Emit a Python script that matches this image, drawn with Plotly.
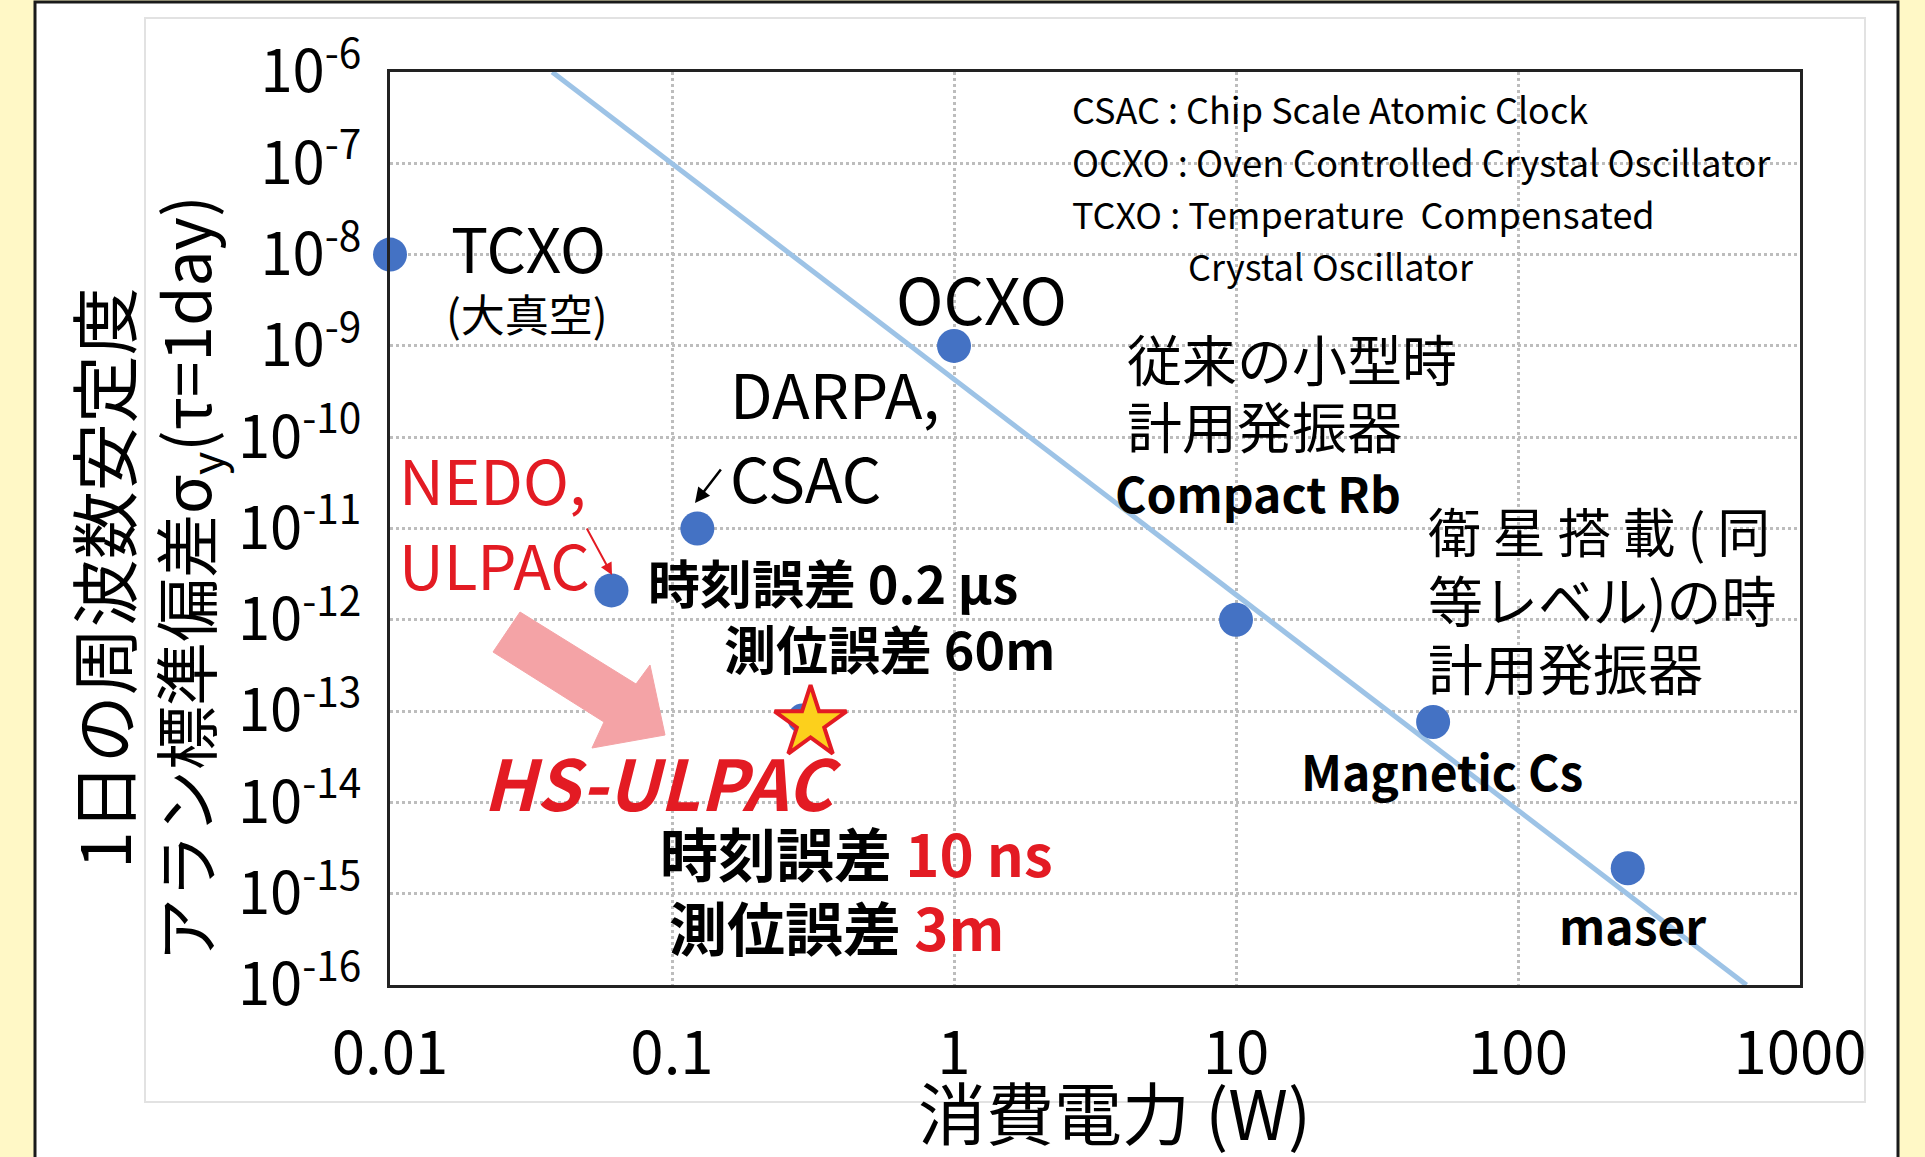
import plotly.graph_objects as go

# ---------------- data ----------------
device_names = ["TCXO", "NEDO ULPAC", "DARPA CSAC", "OCXO", "Compact Rb", "Magnetic Cs", "maser"]
power_w = [0.01, 0.061, 0.123, 1.0, 10.0, 50.0, 245.0]
stability = [1e-8, 2.1e-12, 1e-11, 1e-9, 1e-12, 7.6e-14, 1.9e-15]

hs_dot_power = [0.29]
hs_dot_stability = [8.3e-14]
hs_power = [0.31]
hs_stability = [7.4e-14]

trend_power = [0.0376, 646.0]
trend_stability = [1e-6, 1e-16]

x_tickvals = [0.01, 0.1, 1, 10, 100, 1000]
x_ticktext = ["0.01", "0.1", "1", "10", "100", "1000"]
y_exponents = [-6, -7, -8, -9, -10, -11, -12, -13, -14, -15, -16]

# ---------------- geometry helpers (pixel -> paper) ----------------
W, H = 1925, 1157
L, R, T, B = 390, 1800, 72, 985


def px(X):
    return (X - L) / (R - L)


def py(Y):
    return (B - Y) / (B - T)


FONT = "Noto Sans CJK JP"
RED = "#e31b23"
BLUE = "#4472c4"

fig = go.Figure()

fig.add_trace(go.Scatter(
    x=trend_power, y=trend_stability, mode="lines",
    line=dict(color="#9dc3e6", width=5), hoverinfo="skip", showlegend=False))

fig.add_trace(go.Scatter(
    x=power_w, y=stability, mode="markers", text=device_names,
    marker=dict(color=BLUE, size=34), cliponaxis=False, showlegend=False))

fig.add_trace(go.Scatter(
    x=hs_dot_power, y=hs_dot_stability, mode="markers",
    marker=dict(color=BLUE, size=30), showlegend=False))

fig.add_trace(go.Scatter(
    x=hs_power, y=hs_stability, mode="markers", text=["HS-ULPAC"],
    marker=dict(symbol="star", color="#fcd01c", size=54,
                line=dict(color=RED, width=4)), showlegend=False))

# ---------------- background shapes ----------------
shapes = [
    dict(type="rect", xref="paper", yref="paper", layer="below",
         x0=px(35), x1=px(1898), y0=py(1175), y1=py(2),
         fillcolor="white", line=dict(color="#1a1a1a", width=3)),
    dict(type="rect", xref="paper", yref="paper", layer="below",
         x0=px(145), x1=px(1865), y0=py(1102), y1=py(18),
         fillcolor="rgba(0,0,0,0)", line=dict(color="#e2e2e2", width=2)),
]

arrow_pts = [(520, 612), (636, 684), (650, 665), (665, 735), (592, 748), (604, 722), (493, 652)]
path = "M " + " L ".join(f"{px(a):.5f},{py(b):.5f}" for a, b in arrow_pts) + " Z"
shapes.append(dict(type="path", xref="paper", yref="paper", path=path,
                   fillcolor="#f4a3a6", line=dict(color="#f4a3a6", width=1), layer="above"))

# ---------------- annotations ----------------
ann = []


def text(t, X, Y, size, color="black", anchor="left", weight="normal", style="normal", angle=0):
    ann.append(dict(text=t, x=px(X), y=py(Y), xref="paper", yref="paper",
                    xanchor=anchor, yanchor="middle", showarrow=False, textangle=angle,
                    font=dict(family=FONT, size=size, color=color, weight=weight, style=style)))


text("TCXO", 528, 246, 62, anchor="center")
text("(大真空)", 527, 313, 44, anchor="center")
text("OCXO", 981, 297, 64, anchor="center")
text("DARPA,", 728, 392, 62)
text("CSAC", 728, 476, 62)
text("NEDO,", 397, 478, 62, color=RED)
text("ULPAC", 397, 563, 62, color=RED)
text("時刻誤差 0.2 μs", 646, 581, 52, weight="bold")
text("測位誤差 60m", 722, 648, 52, weight="bold")
text("HS-ULPAC", 662, 780, 70, color=RED, anchor="center", weight="bold", style="italic")
text(f"時刻誤差 <span style='color:{RED}'>10 ns</span>", 658, 852, 58, weight="bold")
text(f"測位誤差 <span style='color:{RED}'>3m</span>", 667, 926, 58, weight="bold")

text("CSAC : Chip Scale Atomic Clock", 1070, 108, 36)
text("OCXO : Oven Controlled Crystal Oscillator", 1070, 161, 36.5)
text("TCXO : Temperature  Compensated", 1070, 213, 36)
text("Crystal Oscillator", 1186, 265, 36)

text("従来の小型時", 1125, 357, 55)
text("計用発振器", 1125, 424, 55)
text("Compact Rb", 1113, 492, 48, weight="bold")
text("衛 星 搭 載 ( 同", 1426, 530, 53)
text("等レベル)の時", 1426, 598, 55)
text("計用発振器", 1426, 666, 55)
text("Magnetic Cs", 1299, 770, 48, weight="bold")
text("maser", 1557, 924, 48, weight="bold")

# axis titles
text("消費電力 (W)", 1114, 1110, 68, anchor="center")
text("1日の周波数安定度", 101, 578, 68, anchor="center", angle=-90)
text("アラン標準偏差σ<sub>y</sub>(τ=1day)", 187, 578, 64, anchor="center", angle=-90)

# small pointer arrows
ann.append(dict(x=px(612), y=py(575), xref="paper", yref="paper", ax=-26, ay=-48,
                axref="pixel", ayref="pixel", text="", showarrow=True,
                arrowhead=2, arrowsize=1.2, arrowwidth=2, arrowcolor=RED))
ann.append(dict(x=px(695), y=py(503), xref="paper", yref="paper", ax=27, ay=-35,
                axref="pixel", ayref="pixel", text="", showarrow=True,
                arrowhead=2, arrowsize=1.2, arrowwidth=2.5, arrowcolor="black"))

fig.update_layout(
    width=W, height=H, autosize=False,
    margin=dict(l=L, r=W - R, t=T, b=H - B, pad=0),
    paper_bgcolor="#fff8c6", plot_bgcolor="white",
    shapes=shapes, annotations=ann, showlegend=False,
    font=dict(family=FONT, color="black"),
)

fig.update_xaxes(
    type="log", range=[-2, 3], tickvals=x_tickvals, ticktext=x_ticktext,
    tickfont=dict(family=FONT, size=60, color="black"), ticks="", ticklabelstandoff=14,
    showgrid=True, gridcolor="#bdbdbd", griddash="dot", gridwidth=3,
    showline=True, linecolor="#222222", linewidth=3, mirror=True, zeroline=False)

fig.update_yaxes(
    type="log", range=[-16, -6], tickvals=[10.0 ** e for e in y_exponents],
    ticktext=[f"10<sup>{e}</sup>" for e in y_exponents],
    tickfont=dict(family=FONT, size=58, color="black"), ticks="", ticklabelstandoff=14,
    showgrid=True, gridcolor="#bdbdbd", griddash="dot", gridwidth=3,
    showline=True, linecolor="#222222", linewidth=3, mirror=True, zeroline=False)

fig.write_html("out.html", config={"displayModeBar": False},
               post_script="document.body.style.margin='0';")
